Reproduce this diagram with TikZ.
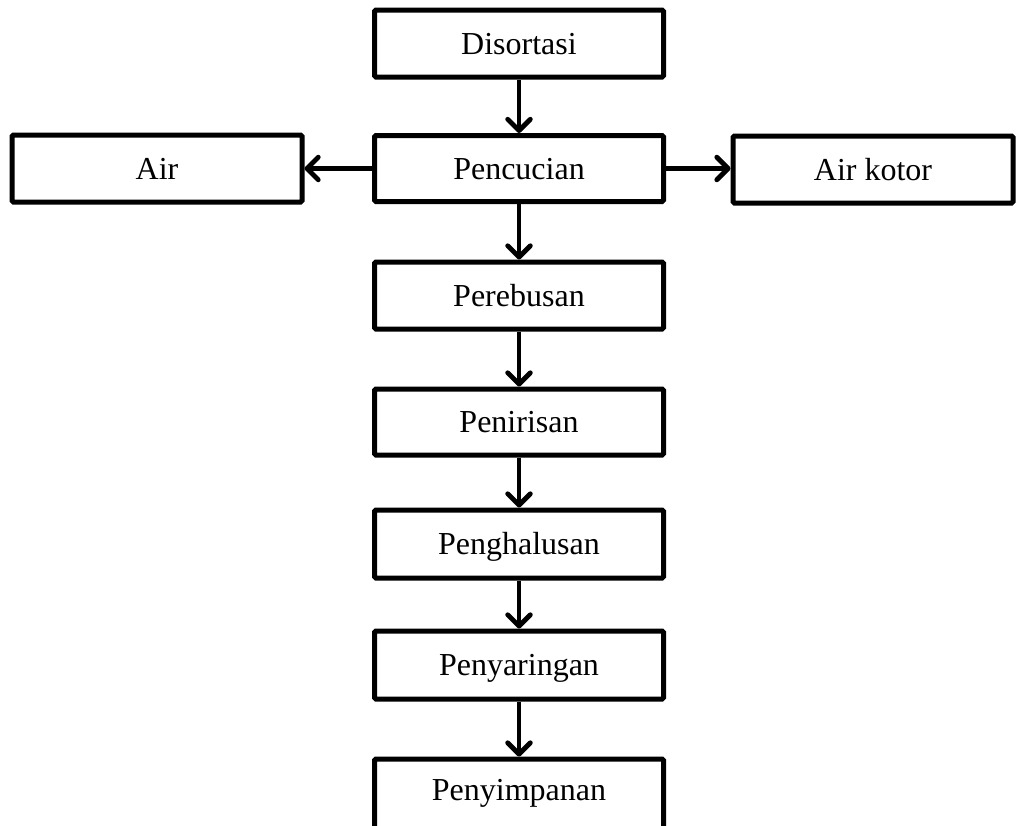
\documentclass[tikz,border=0pt]{standalone}
\usepackage{fontspec}
\setmainfont{Liberation Serif}
\usetikzlibrary{arrows.meta}
\begin{document}
\begin{tikzpicture}[x=0.75pt,y=-0.75pt,
  box/.style={draw=black,line width=3.75pt,rounded corners=1pt,fill=white,
    minimum width=289*0.75pt,inner sep=0pt,font=\fontsize{24pt}{28pt}\selectfont,
    text height=16pt,text depth=0pt},
  flow/.style={line width=3.6pt,-{Straight Barb[length=8.5pt,width=17pt,line cap=round,line join=round]}}
]
\useasboundingbox (0,0) rectangle (1016,825);
\clip (0,0) rectangle (1016,825);
\node[box,minimum height=67*0.75pt] (dis) at (519,43.5) {Disortasi};
\node[box,minimum height=66*0.75pt] (pen) at (519,168.5) {Pencucian};
\node[box,minimum height=67*0.75pt,minimum width=290*0.75pt] (air) at (157,168.5) {Air};
\node[box,minimum height=67*0.75pt,minimum width=280*0.75pt] (kot) at (873,169.5) {Air kotor};
\node[box,minimum height=67*0.75pt] (reb) at (519,295.5) {Perebusan};
\node[box,minimum height=66*0.75pt] (nir) at (519,422) {Penirisan};
\node[box,minimum height=68*0.75pt] (hal) at (519,544) {Penghalusan};
\node[box,minimum height=68*0.75pt] (sar) at (519,665) {Penyaringan};
\node[box,minimum height=90*0.75pt,text depth=21pt] (sim) at (519,804) {Penyimpanan};
\draw[flow] (dis.south) -- (pen.north);
\draw[flow] (pen.west) -- (pen.west -| air.east);
\draw[flow] (pen.east) -- (pen.east -| kot.west);
\draw[flow] (pen.south) -- (reb.north);
\draw[flow] (reb.south) -- (nir.north);
\draw[flow] (nir.south) -- (hal.north);
\draw[flow] (hal.south) -- (sar.north);
\draw[flow] (sar.south) -- (sim.north);
\end{tikzpicture}
\end{document}
